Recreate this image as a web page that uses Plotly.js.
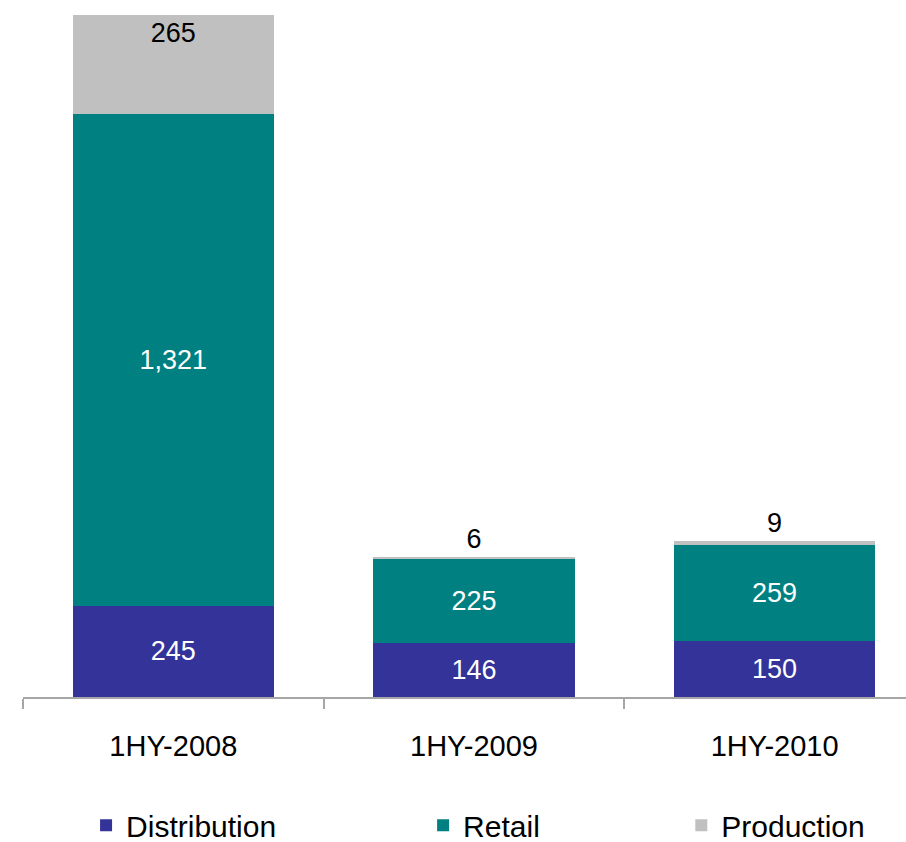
<!DOCTYPE html>
<html>
<head>
<meta charset="utf-8">
<script src="https://cdn.plot.ly/plotly-3.0.1.min.js"></script>
<style>html,body{margin:0;padding:0;background:#fff;}#chart{width:906px;height:842px;}</style>
</head>
<body>
<div id="chart"></div>
<script>
const categories = ['1HY-2008', '1HY-2009', '1HY-2010'];
const distribution = [245, 146, 150];
const retail = [1321, 225, 259];
const production = [265, 6, 9];

const FONT = 'Arial, "Liberation Sans", sans-serif';
const common = {
  type: 'bar',
  x: categories,
  texttemplate: '%{y:,}',
  constraintext: 'none',
  cliponaxis: false,
  hoverinfo: 'x+y+name'
};

const traces = [
  Object.assign({}, common, {
    name: 'Distribution', y: distribution,
    marker: {color: '#333399'},
    textposition: 'inside', insidetextanchor: 'middle',
    textfont: {family: FONT, size: 27, color: '#ffffff'},
    legend: 'legend'
  }),
  Object.assign({}, common, {
    name: 'Retail', y: retail,
    marker: {color: '#008080'},
    textposition: 'inside', insidetextanchor: 'middle',
    textfont: {family: FONT, size: 27, color: '#ffffff'},
    legend: 'legend2'
  }),
  Object.assign({}, common, {
    name: 'Production', y: production,
    marker: {color: '#C0C0C0'},
    textposition: ['inside', 'outside', 'outside'], insidetextanchor: 'end',
    textfont: {family: FONT, size: 27, color: '#000000'},
    outsidetextfont: {family: FONT, size: 27, color: '#000000'},
    insidetextfont: {family: FONT, size: 27, color: '#000000'},
    legend: 'legend3'
  })
];

const legBase = {
  orientation: 'h', xref: 'container', yref: 'container',
  yanchor: 'middle', y: 0.02, xanchor: 'left',
  font: {family: FONT, size: 30, color: '#000000'},
  bgcolor: 'rgba(0,0,0,0)', borderwidth: 0
};

const layout = {
  width: 906, height: 842,
  margin: {l: 23, r: 0, t: 0, b: 145},
  paper_bgcolor: '#ffffff', plot_bgcolor: '#ffffff',
  barmode: 'stack', bargap: 0.33,
  font: {family: FONT, size: 27, color: '#000000'},
  showlegend: true,
  legend: Object.assign({}, legBase, {x: 0.095}),
  legend2: Object.assign({}, legBase, {x: 0.467}),
  legend3: Object.assign({}, legBase, {x: 0.752}),
  xaxis: {
    type: 'category', range: [-0.5, 2.437],
    showline: true, linecolor: '#A6A6A6', linewidth: 2,
    ticks: 'outside', tickson: 'boundaries', ticklen: 10, tickcolor: '#A6A6A6', tickwidth: 2,
    ticklabelstandoff: 22,
    tickfont: {family: FONT, size: 29, color: '#000000'},
    showgrid: false, zeroline: false, fixedrange: true
  },
  yaxis: {
    range: [0, 1871], visible: false, showgrid: false, zeroline: false, fixedrange: true
  }
};

Plotly.newPlot('chart', traces, layout, {displayModeBar: false, staticPlot: true});
</script>
</body>
</html>
